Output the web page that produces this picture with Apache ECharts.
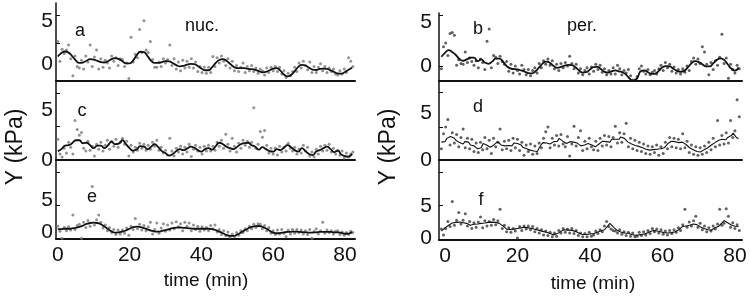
<!DOCTYPE html>
<html>
<head>
<meta charset="utf-8">
<script src="https://cdn.jsdelivr.net/npm/echarts@6/dist/echarts.min.js"></script>
<style>
  html, body { margin: 0; padding: 0; background: #fff; }
  #chart { width: 750px; height: 297px; }
</style>
</head>
<body>
<div id="chart"></div>
<script>
const FONT = "'Liberation Sans', Arial, sans-serif"
const INK = '#111'

// time axis ticks (min)
const timeTicks = [0, 20, 40, 60, 80]
const yLabels = [0, 5]

// smoothed curves, nuclear (left) one value per minute from t = 0
const aLine = [0.85,1.25,1.43,1.3,0.9,0.4,0.1,0.15,0.35,0.55,
  0.5,0.35,0.2,0.15,0.3,0.55,0.65,0.55,0.3,0.05,
  0.05,0.4,1.0,1.4,1.35,0.9,0.35,0.1,0.1,0.2,
  0.3,0.28,0.1,-0.15,-0.3,-0.25,-0.1,-0.02,-0.05,-0.25,
  -0.55,-0.75,-0.75,-0.4,0.1,0.45,0.55,0.35,0,-0.35,
  -0.5,-0.5,-0.5,-0.6,-0.62,-0.7,-0.85,-1.0,-0.95,-0.75,
  -0.55,-0.5,-0.8,-1.25,-1.47,-1.3,-0.85,-0.35,-0.12,-0.2,
  -0.45,-0.68,-0.72,-0.6,-0.55,-0.6,-0.75,-0.95,-1.12,-1.15,
  -0.95,-0.7,-0.45]
const cLine = [0.9,1.1,1.45,1.5,1.7,2.0,2.0,1.7,1.75,1.5,
  1.2,1.45,1.45,1.2,1.5,1.85,1.6,1.65,2.0,1.6,
  1.2,0.95,1.1,1.4,1.35,1.1,1.35,1.6,1.3,0.9,
  0.7,0.45,0.6,0.9,1.1,1.0,1.15,1.35,1.25,1.0,
  0.85,1.1,1.2,1.05,1.4,1.75,1.6,1.35,1.2,1.1,
  1.35,1.6,1.7,1.75,1.5,1.35,1.05,1.3,1.1,0.9,
  0.85,1.1,1.0,1.25,1.5,1.3,1.0,0.85,1.2,0.9,
  0.6,0.5,0.85,1.0,1.2,1.35,1.1,0.8,0.95,0.55,
  0.4,0.35,0.65]
const eLine = [0.55,0.55,0.6,0.6,0.65,0.75,0.9,1.1,1.35,1.5,
  1.55,1.5,1.3,0.95,0.55,0.2,0.0,0.05,0.15,0.35,
  0.6,0.85,0.92,0.85,0.7,0.5,0.3,0.17,0.14,0.25,
  0.4,0.55,0.7,0.78,0.8,0.75,0.7,0.65,0.6,0.6,
  0.6,0.6,0.6,0.55,0.4,0.15,-0.1,-0.35,-0.5,-0.5,
  -0.3,0.0,0.35,0.65,0.9,1.0,1.03,0.9,0.65,0.3,
  0.0,-0.1,-0.05,0.05,0.1,0.12,0.15,0.12,0.08,0.05,
  0.0,0.0,0.05,0.1,0.12,0.12,0.1,0.05,0.05,-0.05,
  -0.18,-0.15,0.1]

// perinuclear (right): b one value per minute from t = -1, d and f every half minute from t = -1
const bLine = [1.05,1.5,1.8,1.6,1.25,0.8,0.6,0.75,0.95,0.95,
  0.55,0.75,0.4,0.25,0.5,0.85,0.85,0.5,0.0,-0.27,
  -0.35,-0.38,-0.5,-0.65,-0.8,-0.83,-0.6,-0.15,0.3,0.5,
  0.35,0.0,-0.2,-0.1,0.05,0.12,0.1,-0.15,-0.5,-0.75,
  -0.7,-0.4,-0.12,-0.1,-0.35,-0.65,-0.76,-0.6,-0.5,-0.6,
  -0.7,-1.0,-1.45,-1.68,-1.4,-0.6,-0.5,-0.7,-0.9,-0.85,
  -0.55,-0.15,0.0,-0.05,-0.3,-0.55,-0.65,-0.55,-0.15,0.3,
  0.55,0.45,0.2,-0.05,-0.05,0.3,0.7,0.87,0.7,0.2,
  -0.3,-0.53,-0.15]
const dLine = [1.9,2.1,1.95,2.3,2.2,2.5,2.4,2.35,2.1,2.2,
  1.85,2.0,1.7,1.95,1.75,1.9,1.6,1.8,1.5,1.45,
  1.2,1.4,1.3,1.75,1.85,1.6,1.7,1.35,1.5,1.6,
  1.8,1.95,1.85,1.6,1.75,1.5,1.65,1.55,1.75,1.5,
  1.8,1.6,1.75,1.55,1.6,1.35,1.45,1.2,1.3,1.05,
  1.2,0.95,1.1,0.9,1.3,1.6,1.85,2.0,1.8,1.95,
  1.7,1.8,1.95,2.1,2.0,2.3,2.25,2.0,2.1,1.75,
  1.85,1.95,2.15,1.9,2.1,1.8,1.7,1.5,1.45,1.6,
  1.5,1.75,1.8,1.6,1.55,1.4,1.5,1.7,1.85,2.0,
  2.15,1.95,2.1,1.9,2.2,2.05,2.2,2.35,2.2,2.45,
  2.55,2.3,2.15,1.9,1.95,1.7,1.8,1.55,1.6,1.45,
  1.4,1.3,1.25,1.15,1.2,1.05,1.0,1.1,1.0,1.15,
  1.05,1.2,1.1,1.3,1.5,1.75,1.9,2.0,1.8,1.95,
  1.75,1.85,1.7,1.9,1.8,1.65,1.5,1.3,1.25,1.1,
  1.0,0.9,0.95,0.85,1.0,1.1,1.05,1.3,1.5,1.6,
  1.55,1.85,2.0,2.1,1.95,2.2,2.3,2.15,2.4,2.3,
  2.6,2.85,2.6,2.35,2.3]
const fLine = [1.1,1.4,1.6,1.85,2.0,2.2,2.35,2.2,2.45,2.3,
  2.5,2.6,2.4,2.55,2.3,2.2,2.0,1.9,2.15,2.0,
  2.2,2.05,2.3,2.1,2.35,2.2,2.45,2.35,2.5,2.6,
  2.45,2.55,2.3,2.15,1.9,1.6,1.4,1.25,1.35,1.2,
  1.4,1.3,1.5,1.4,1.6,1.5,1.7,1.75,1.6,1.7,
  1.5,1.55,1.35,1.4,1.2,1.25,1.05,1.1,0.9,0.85,
  0.7,0.6,0.5,0.55,0.7,0.9,1.05,1.2,1.3,1.15,
  1.25,1.1,1.2,1.0,1.05,0.85,0.75,0.6,0.55,0.45,
  0.55,0.5,0.65,0.55,0.7,0.75,0.9,1.0,1.1,1.2,
  1.3,1.6,1.95,2.3,2.0,1.7,1.4,1.2,1.05,0.95,
  0.85,0.8,0.7,0.75,0.6,0.55,0.5,0.45,0.55,0.5,
  0.65,0.6,0.75,0.7,0.9,1.0,1.15,1.2,1.3,1.1,
  1.2,1.0,1.05,0.85,0.95,0.8,0.9,0.85,0.95,1.0,
  1.2,1.3,1.55,1.8,2.0,1.9,2.1,2.0,2.25,2.2,
  2.35,2.1,1.9,1.75,1.6,1.5,1.4,1.3,1.35,1.25,
  1.45,1.6,1.7,1.85,2.1,2.4,2.75,2.6,2.4,2.2,
  2.05,1.95,1.85,1.75,1.8]

// raw measurements, one every 0.6 min (left from t = 0, right from t = -1)
const aDots = [2.6,0.3,1.7,1.2,1.6,2.2,0.6,-1.4,0.9,-0.3,
  -0.5,0.4,-0.6,0.9,0.2,2.2,-0.3,0.8,1.6,-0.6,
  0.6,-0.4,0.4,0.1,-0.5,0.9,0.3,0.7,-0.2,0.6,
  0.5,-0.3,0.1,-1.7,3.1,0.2,1.1,0.7,4.0,1.3,
  5.0,1.6,1.3,2.6,0.5,-0.4,-0.4,0.2,-0.3,0.6,
  0.1,0.5,2.2,-0.2,0.6,-0.6,0.2,-0.8,0.4,-0.5,
  0.3,-0.4,0.6,-0.5,0.2,-0.9,-0.3,-1.0,-0.4,-1.1,
  -0.4,-1.0,0.85,-0.3,0.7,0.1,0.9,0.3,-0.2,0.6,
  -0.5,0.3,-0.8,-0.2,-0.9,-0.4,0.1,-1.0,-0.3,-0.8,
  -0.2,-0.9,-0.5,-1.1,-0.6,-0.8,-1.3,-0.5,-1.0,-0.4,
  -0.8,-0.3,-0.9,-0.4,-1.2,-0.8,-1.6,-1.1,-1.4,-0.9,
  -0.4,-0.9,0.1,-0.5,0.3,-0.2,-0.7,0.2,-1.0,-0.3,
  -1.0,-0.4,0.0,-0.8,-0.3,-1.0,-0.5,-0.9,-0.6,-1.2,
  -1.3,-0.8,-1.2,-0.6,-1.0,0.7,0.3,-0.3]
const cDots = [2.1,0.6,0.3,1.2,0.7,1.8,1.3,0.6,4.0,3.1,
  2.5,2.8,1.2,0.9,1.9,1.0,1.4,0.4,1.6,1.1,
  1.8,0.9,1.5,2.0,1.1,1.9,1.4,2.1,1.3,1.8,
  2.2,1.6,1.9,0.4,1.5,0.8,1.3,1.0,1.7,1.2,
  1.6,1.0,1.5,1.1,1.8,1.4,2.0,1.0,1.3,0.7,
  1.0,0.5,2.2,0.9,0.4,1.2,0.8,1.4,0.6,1.3,
  0.8,1.6,0.35,1.1,1.5,0.9,1.3,0.6,1.4,0.9,
  1.5,0.9,1.4,1.0,1.8,1.4,2.0,1.2,2.6,1.6,
  0.9,2.2,1.4,0.8,1.7,1.2,2.0,1.5,1.9,1.3,
  1.8,5.3,1.2,1.6,2.9,2.3,3.0,1.5,0.7,1.2,
  0.6,1.2,0.5,1.4,0.8,1.3,0.9,1.7,1.2,0.9,
  1.3,0.6,1.1,0.7,1.5,0.9,1.3,0.4,0.8,0.3,
  1.1,0.6,1.4,0.9,1.5,1.0,1.6,0.8,1.2,0.6,
  1.0,0.5,0.9,0.2,0.7,0.3,0.6,0.8]
const eDots = [1.0,0.2,-0.9,0.8,0.3,0.9,0.4,2.75,0.5,1.1,
  1.3,-0.9,1.6,0.8,1.9,1.0,7.2,1.2,2.0,2.75,
  1.6,0.7,1.2,0.3,0.8,0.0,0.5,-0.3,0.4,-0.2,
  0.4,-0.1,0.7,-0.4,1.0,0.5,2.2,0.6,1.3,0.4,
  1.1,0.3,0.9,1.6,-0.2,0.5,1.5,-0.1,0.7,1.4,
  0.2,1.2,0.4,1.5,0.6,1.7,0.9,1.4,0.3,1.6,
  1.0,1.5,0.3,1.2,0.5,1.0,0.2,0.9,0.4,0.8,
  0.3,1.1,0.6,1.2,0.1,0.5,-0.3,0.3,-0.5,0.1,
  -0.7,-0.2,-0.6,0.0,-0.4,0.3,0.0,0.6,0.3,1.0,
  0.6,1.3,0.8,1.4,1.3,0.6,1.1,0.3,0.8,-0.1,
  0.3,-0.3,0.4,-0.2,0.5,-0.1,-0.6,0.4,-0.2,0.5,
  -0.1,0.5,0.0,0.4,-0.2,0.3,-0.3,0.5,-0.9,0.2,
  0.6,-0.2,0.3,1.6,-0.1,0.4,0.0,0.3,-0.2,0.2,
  0.3,-0.3,0.1,-0.4,0.0,-0.3,0.2,0.0]
const bDots = [-0.3,2.2,2.6,1.2,3.7,3.8,3.5,0.1,0.7,0.3,
  0.2,1.6,0.4,0.9,0.5,0.1,0.6,-0.2,0.8,0.4,
  -0.4,2.8,4.2,-0.2,1.2,1.0,0.3,1.1,0.5,0.2,
  0.5,-0.6,0.2,-0.8,0.0,-0.5,-0.9,0.1,-0.4,-1.0,
  -0.4,-1.1,-0.5,-0.2,-0.8,0.3,-0.2,0.6,0.2,0.8,
  0.1,0.6,-0.3,0.2,-0.5,0.3,-0.2,0.4,0.0,1.1,
  0.3,-0.3,0.2,-0.8,-0.3,-1.0,-0.5,-0.2,-0.9,-0.1,
  -0.6,0.2,-0.4,0.1,-0.7,-0.3,-1.0,-0.5,-0.9,-0.2,
  -0.9,0.1,-0.3,-1.0,-0.5,-0.8,-0.4,-1.1,-1.6,-1.6,
  -1.2,-0.3,0.0,-0.6,-0.9,-0.4,-1.0,-0.7,-0.5,-0.9,
  -0.3,0.1,-0.5,0.4,-0.2,0.2,-0.6,-0.1,-0.8,-0.4,
  -0.9,-0.3,-0.7,0.0,-0.5,0.5,0.9,0.2,0.8,0.3,
  2.2,1.6,0.2,-1.0,0.4,-0.4,0.6,0.1,1.0,3.6,
  0.3,0.9,-1.4,0.2,-0.4,-0.8,0.1,-0.3]
const dDots = [1.2,2.8,3.5,4.3,1.6,2.9,1.8,2.7,1.4,2.4,
  3.3,1.3,2.3,1.2,2.2,0.9,1.8,0.8,1.9,1.1,
  2.4,1.2,2.1,0.7,2.3,1.4,1.9,3.3,1.1,2.0,
  1.2,2.1,1.0,2.3,1.3,2.2,1.0,1.9,0.5,1.6,
  0.9,1.7,0.6,1.5,0.7,1.8,1.3,2.3,3.0,3.5,
  1.3,2.3,1.6,2.6,1.5,2.7,1.7,1.4,2.5,0.43,
  1.7,3.6,1.5,2.4,3.1,1.0,2.0,1.2,2.3,1.4,
  1.1,2.0,1.0,2.3,1.5,2.6,1.6,2.5,1.4,2.4,
  3.6,1.8,2.9,1.9,2.8,3.9,1.4,2.3,1.2,2.1,
  1.0,1.9,0.9,1.7,0.7,1.5,0.6,1.4,0.8,1.6,
  0.5,1.4,0.7,1.9,1.2,2.4,1.4,2.3,1.3,2.2,
  1.2,2.8,1.3,2.0,0.8,1.6,0.6,1.4,0.5,1.3,
  0.6,1.5,0.8,1.9,1.1,2.3,1.4,4.2,1.6,2.6,
  1.7,2.9,1.8,4.2,2.4,3.1,6.4,4.6]
const fDots = [1.4,0.48,1.5,2.6,1.8,5.7,2.0,2.8,4.0,2.2,
  2.8,3.8,1.9,2.6,1.5,2.4,1.7,2.5,3.3,1.6,
  2.7,1.9,2.6,2.0,2.9,2.1,2.7,4.5,1.5,2.0,
  1.0,1.6,0.9,1.5,1.1,0.0,1.8,1.2,1.9,1.4,
  1.9,1.3,1.8,1.0,1.5,0.8,1.3,0.5,1.1,0.4,
  0.9,0.2,0.8,0.3,1.2,0.8,1.5,0.9,1.4,0.8,
  1.5,0.7,1.2,0.4,0.8,0.2,0.7,0.2,0.9,0.3,
  0.5,1.1,0.7,1.3,1.0,1.9,2.6,1.8,1.4,1.2,
  1.1,0.8,1.3,0.6,1.0,0.4,0.9,0.3,0.8,0.2,
  0.3,0.9,0.4,1.0,0.5,1.2,0.7,1.5,1.0,1.4,
  0.8,1.3,0.6,1.1,0.5,1.2,0.7,1.3,0.9,1.6,
  1.2,2.1,4.5,1.7,2.5,1.9,2.7,3.4,1.7,2.3,
  1.3,1.9,1.0,1.6,1.1,1.9,1.4,2.2,4.5,2.0,
  2.3,4.6,3.4,1.7,2.4,1.5,2.1,1.2]

const DOT_STEP = 0.6

function toPairs(values, start, step) {
  return values.map((v, i) => [Math.round((start + i * step) * 100) / 100, v])
}

// layout of the six panels: left column nuc., right column per.
const COLS = [
  { left: 56, width: 299, xMin: -0.5, xMax: 82.8, t0: 0, dot: '#777', labelMargin: 3 },
  { left: 439, width: 303, xMin: -1.65, xMax: 81.95, t0: -1, dot: '#383838', labelMargin: 7 },
]
const panels = [
  { col: 0, top: 3, height: 78, yMin: -2, yMax: 7.07, ticks: [2.4, 5.7], line: aLine, lineStep: 1, dots: aDots, smooth: true, bottom: false },
  { col: 0, top: 81, height: 79, yMin: 0, yMax: 8.01, ticks: [3.4, 6.8], line: cLine, lineStep: 1, dots: cDots, smooth: true, bottom: false },
  { col: 0, top: 160, height: 79, yMin: -1, yMax: 11.34, ticks: [4.3, 9.5], line: eLine, lineStep: 1, dots: eDots, smooth: true, bottom: true },
  { col: 1, top: 13, height: 68, yMin: -1.7, yMax: 6.02, ticks: [0, 5.8], line: bLine, lineStep: 1, dots: bDots, smooth: true, bottom: false },
  { col: 1, top: 81, height: 79, yMin: 0, yMax: 8.4, ticks: [3.5, 7.2], line: dLine, lineStep: 0.5, dots: dDots, smooth: false, bottom: false },
  { col: 1, top: 160, height: 80, yMin: -0.3, yMax: 12.2, ticks: [5.2, 10.3], line: fLine, lineStep: 0.5, dots: fDots, smooth: false, bottom: true },
]

const grid = [], xAxis = [], yAxis = [], series = []
panels.forEach((p, i) => {
  const c = COLS[p.col]
  grid.push({ left: c.left, top: p.top, width: c.width, height: p.height })
  xAxis.push({
    type: 'value', gridIndex: i, min: c.xMin, max: c.xMax,
    axisLine: { onZero: false, lineStyle: { color: INK, width: 2 } },
    axisTick: { show: false },
    splitLine: { show: false },
    axisLabel: {
      show: p.bottom, customValues: timeTicks, margin: 6,
      fontFamily: FONT, fontSize: 21, color: INK,
    },
  })
  yAxis.push({
    type: 'value', gridIndex: i, min: p.yMin, max: p.yMax,
    axisLine: { show: true, onZero: false, lineStyle: { color: INK, width: 1.5 } },
    axisTick: { show: true, inside: true, length: 4, customValues: p.ticks, lineStyle: { color: INK } },
    splitLine: { show: false },
    axisLabel: { customValues: yLabels, margin: c.labelMargin, fontFamily: FONT, fontSize: 21, color: INK },
  })
  series.push({
    type: 'scatter', xAxisIndex: i, yAxisIndex: i,
    data: toPairs(p.dots, c.t0, DOT_STEP),
    symbol: 'circle', symbolSize: 3,
    itemStyle: { color: c.dot },
    silent: true, z: 2,
  })
  series.push({
    type: 'line', xAxisIndex: i, yAxisIndex: i,
    data: toPairs(p.line, c.t0, p.lineStep),
    showSymbol: false, smooth: p.smooth ? 0.5 : false,
    lineStyle: { color: INK, width: p.smooth ? 1.8 : 1.1 },
    silent: true, z: 3,
  })
})

function label(text, x, y, size) {
  return {
    type: 'text', x, y, silent: true,
    style: { text, fontFamily: FONT, fontSize: size, fill: INK, align: 'center', verticalAlign: 'middle' },
  }
}
function vLabel(text, x, y) {
  return {
    type: 'text', x, y, rotation: Math.PI / 2, silent: true,
    style: { text, fontFamily: FONT, fontSize: 23, fill: INK, align: 'center', verticalAlign: 'middle' },
  }
}

const chart = echarts.init(document.getElementById('chart'), null, { renderer: 'canvas' })
chart.setOption({
  animation: false,
  backgroundColor: '#fff',
  grid, xAxis, yAxis, series,
  graphic: [
    label('a', 80, 31, 18), label('nuc.', 202, 26, 18),
    label('b', 478, 29, 18), label('per.', 582, 26, 18),
    label('c', 82, 111, 18), label('d', 478, 107, 18),
    label('e', 92, 197, 18), label('f', 481, 200, 18),
    label('time (min)', 206, 281, 19), label('time (min)', 593, 284, 19),
    vLabel('Y (kPa)', 16, 147), vLabel('Y (kPa)', 389, 147),
  ],
})
</script>
</body>
</html>
